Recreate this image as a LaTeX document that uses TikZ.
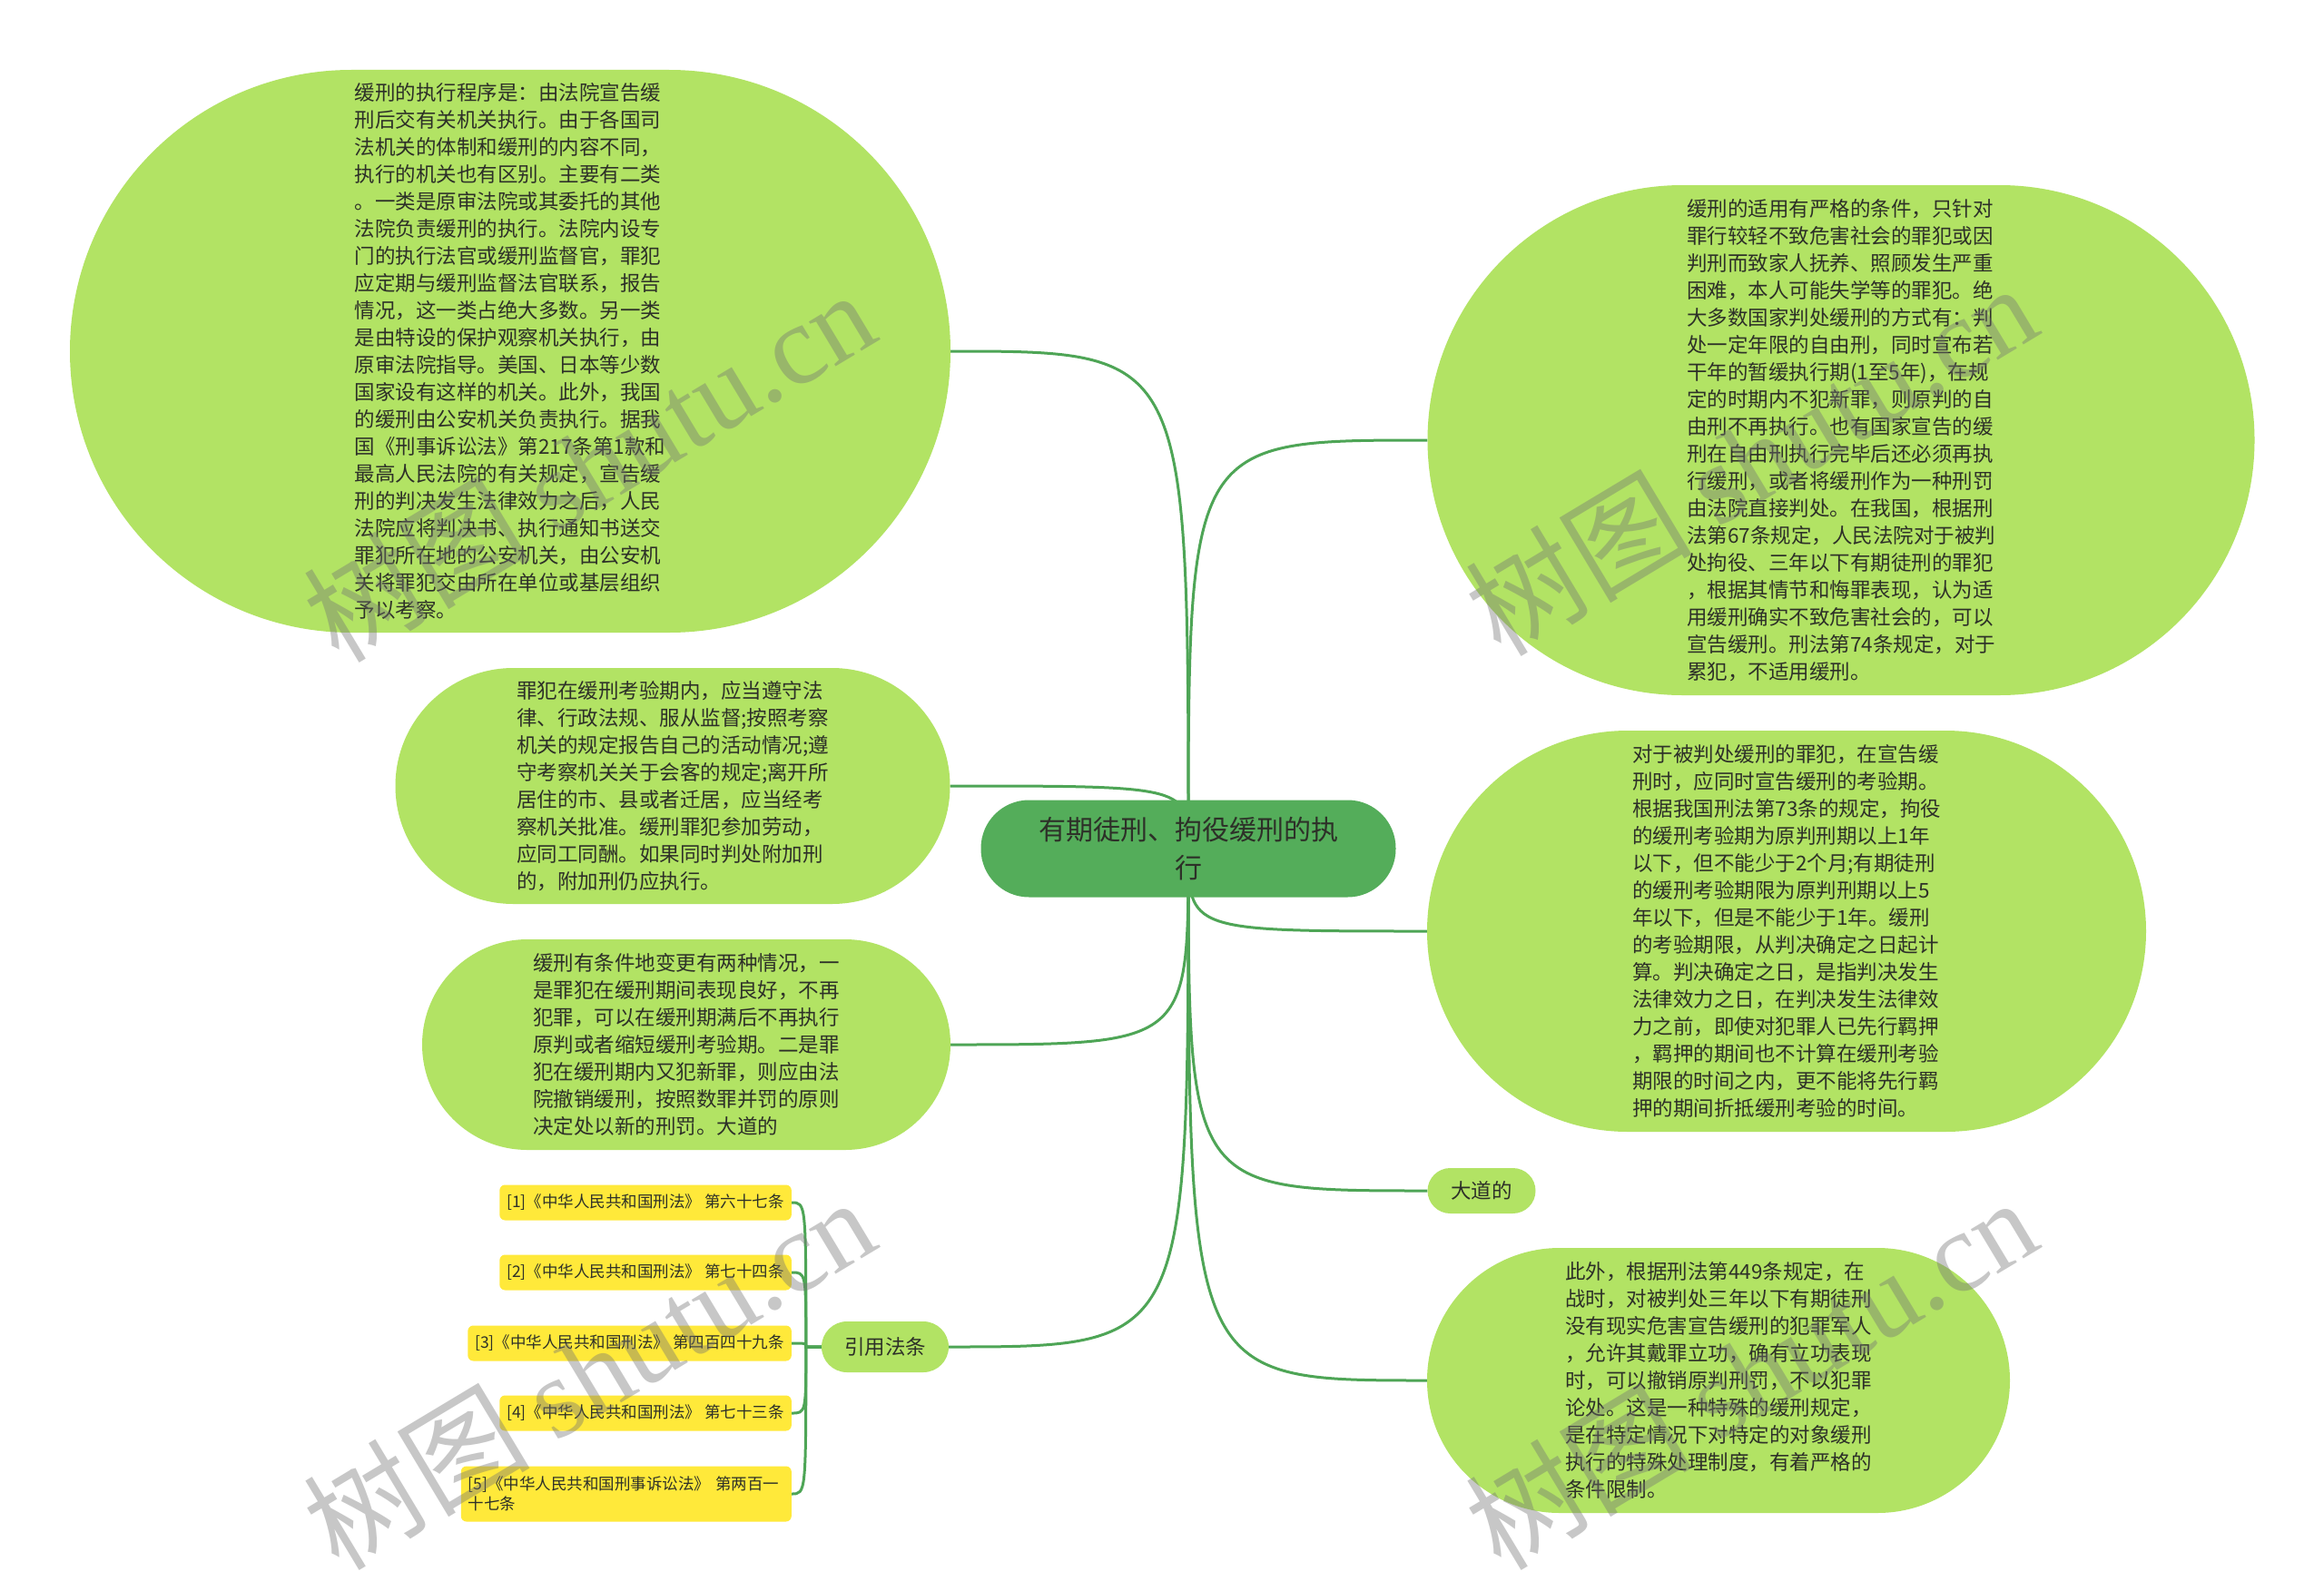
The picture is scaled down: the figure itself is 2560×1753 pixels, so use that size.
\documentclass[tikz,border=0pt]{standalone}
\usepackage{fontspec}
\setmainfont{Noto Sans CJK SC}
\newfontfamily\wmlatin{Liberation Serif}
\usetikzlibrary{backgrounds}
\definecolor{leaf}{RGB}{178,227,100}
\definecolor{trunk}{RGB}{84,173,90}
\definecolor{ln}{RGB}{78,165,86}
\definecolor{cy}{RGB}{255,233,58}
\definecolor{ink}{RGB}{45,48,40}

\begin{document}
\begin{tikzpicture} [
    x=1pt, y=-1pt,
    lk/.style={draw=ln,line width=3pt},
    topic/.style={
        fill=leaf, text=ink,
        align=left, inner sep=0pt,
        font=\fontsize{22.5}{30}\selectfont
    },
    cite/.style={
        fill=cy, text=ink,
        rounded corners=6pt,
        inner xsep=8pt, inner ysep=0pt,
        minimum height=39pt,
        anchor=east, align=left,
        font=\fontsize{17.5}{22}\selectfont
    },
    wm/.style={text=black!55, opacity=0.4, rotate=31,
        font=\fontsize{125}{125}\selectfont}
]

\useasboundingbox (0,0) rectangle (2560,1753);

\node [fill=trunk, text=ink, rounded corners=53pt,
    minimum width=457pt, minimum height=107pt, align=center,
    font=\fontsize{30}{42}\selectfont] (root) at (1309,935)
    {有期徒刑、拘役缓刑的执\\行};

% left side
\node [topic, minimum width=970pt, minimum height=620pt, rounded corners=310pt] (exec) at (562,387) {%
缓刑的执行程序是：由法院宣告缓\\
刑后交有关机关执行。由于各国司\\
法机关的体制和缓刑的内容不同，\\
执行的机关也有区别。主要有二类\\
。一类是原审法院或其委托的其他\\
法院负责缓刑的执行。法院内设专\\
门的执行法官或缓刑监督官，罪犯\\
应定期与缓刑监督法官联系，报告\\
情况，这一类占绝大多数。另一类\\
是由特设的保护观察机关执行，由\\
原审法院指导。美国、日本等少数\\
国家设有这样的机关。此外，我国\\
的缓刑由公安机关负责执行。据我\\
国《刑事诉讼法》第217条第1款和\\
最高人民法院的有关规定，宣告缓\\
刑的判决发生法律效力之后，人民\\
法院应将判决书、执行通知书送交\\
罪犯所在地的公安机关，由公安机\\
关将罪犯交由所在单位或基层组织\\
予以考察。};

\node [topic, minimum width=611pt, minimum height=260pt, rounded corners=130pt] (duty) at (741,866) {%
罪犯在缓刑考验期内，应当遵守法\\
律、行政法规、服从监督;按照考察\\
机关的规定报告自己的活动情况;遵\\
守考察机关关于会客的规定;离开所\\
居住的市、县或者迁居，应当经考\\
察机关批准。缓刑罪犯参加劳动，\\
应同工同酬。如果同时判处附加刑\\
的，附加刑仍应执行。};

\node [topic, minimum width=582pt, minimum height=232pt, rounded corners=116pt] (change) at (756,1151) {%
缓刑有条件地变更有两种情况，一\\
是罪犯在缓刑期间表现良好，不再\\
犯罪，可以在缓刑期满后不再执行\\
原判或者缩短缓刑考验期。二是罪\\
犯在缓刑期内又犯新罪，则应由法\\
院撤销缓刑，按照数罪并罚的原则\\
决定处以新的刑罚。大道的};

\node [topic, align=center, minimum width=140pt, minimum height=56pt, rounded corners=28pt] (laws) at (975,1484) {引用法条};

\node [cite] (c1) at (872,1325) {[1]《中华人民共和国刑法》 第六十七条};
\node [cite] (c2) at (872,1402) {[2]《中华人民共和国刑法》 第七十四条};
\node [cite] (c3) at (872,1480) {[3]《中华人民共和国刑法》 第四百四十九条};
\node [cite] (c4) at (872,1557) {[4]《中华人民共和国刑法》 第七十三条};
\node [cite, minimum height=61pt, text width=348pt] (c5) at (872,1646)
    {[5]《中华人民共和国刑事诉讼法》 第两百一\\十七条};

% right side
\node [topic, minimum width=911pt, minimum height=562pt, rounded corners=281pt] (cond) at (2028,485) {%
缓刑的适用有严格的条件，只针对\\
罪行较轻不致危害社会的罪犯或因\\
判刑而致家人抚养、照顾发生严重\\
困难，本人可能失学等的罪犯。绝\\
大多数国家判处缓刑的方式有：判\\
处一定年限的自由刑，同时宣布若\\
干年的暂缓执行期(1至5年)，在规\\
定的时期内不犯新罪，则原判的自\\
由刑不再执行。也有国家宣告的缓\\
刑在自由刑执行完毕后还必须再执\\
行缓刑，或者将缓刑作为一种刑罚\\
由法院直接判处。在我国，根据刑\\
法第67条规定，人民法院对于被判\\
处拘役、三年以下有期徒刑的罪犯\\
，根据其情节和悔罪表现，认为适\\
用缓刑确实不致危害社会的，可以\\
宣告缓刑。刑法第74条规定，对于\\
累犯，不适用缓刑。};

\node [topic, minimum width=792pt, minimum height=442pt, rounded corners=221pt] (term) at (1968,1026) {%
对于被判处缓刑的罪犯，在宣告缓\\
刑时，应同时宣告缓刑的考验期。\\
根据我国刑法第73条的规定，拘役\\
的缓刑考验期为原判刑期以上1年\\
以下，但不能少于2个月;有期徒刑\\
的缓刑考验期限为原判刑期以上5\\
年以下，但是不能少于1年。缓刑\\
的考验期限，从判决确定之日起计\\
算。判决确定之日，是指判决发生\\
法律效力之日，在判决发生法律效\\
力之前，即使对犯罪人已先行羁押\\
，羁押的期间也不计算在缓刑考验\\
期限的时间之内，更不能将先行羁\\
押的期间折抵缓刑考验的时间。};

\node [topic, align=center, minimum width=119pt, minimum height=50pt, rounded corners=25pt] (dadao) at (1632,1312) {大道的};

\node [topic, minimum width=642pt, minimum height=292pt, rounded corners=146pt] (war) at (1893,1521) {%
此外，根据刑法第449条规定，在\\
战时，对被判处三年以下有期徒刑\\
没有现实危害宣告缓刑的犯罪军人\\
，允许其戴罪立功，确有立功表现\\
时，可以撤销原判刑罚，不以犯罪\\
论处。这是一种特殊的缓刑规定，\\
是在特定情况下对特定的对象缓刑\\
执行的特殊处理制度，有着严格的\\
条件限制。};

\begin{scope}[on background layer]
\fill [white] (0,0) rectangle (2560,1753);
\draw [lk] (root.center) .. controls (root.center |- exec.east) .. (exec.east);
\draw [lk] (root.center) .. controls (root.center |- duty.east) .. (duty.east);
\draw [lk] (root.center) .. controls (root.center |- change.east) .. (change.east);
\draw [lk] (root.center) .. controls (root.center |- laws.east) .. (laws.east);
\draw [lk] (root.center) .. controls (root.center |- cond.west) .. (cond.west);
\draw [lk] (root.center) .. controls (root.center |- term.west) .. (term.west);
\draw [lk] (root.center) .. controls (root.center |- dadao.west) .. (dadao.west);
\draw [lk] (root.center) .. controls (root.center |- war.west) .. (war.west);

\path (laws.west) ++(-17,0) coordinate (hub);
\draw [lk] (laws.west) -- (hub) .. controls (hub |- c1.east) .. (c1.east);
\draw [lk] (laws.west) -- (hub) .. controls (hub |- c2.east) .. (c2.east);
\draw [lk] (laws.west) -- (hub) .. controls (hub |- c3.east) .. (c3.east);
\draw [lk] (laws.west) -- (hub) .. controls (hub |- c4.east) .. (c4.east);
\draw [lk] (laws.west) -- (hub) .. controls (hub |- c5.east) .. (c5.east);
\end{scope}

% watermark
\node [wm] (wm1) at (648,512) {树图 {\wmlatin shutu.cn}};
\node [wm] (wm2) at (1928,505) {树图 {\wmlatin shutu.cn}};
\node [wm] (wm3) at (648,1512) {树图 {\wmlatin shutu.cn}};
\node [wm] (wm4) at (1928,1512) {树图 {\wmlatin shutu.cn}};

\end{tikzpicture}
\end{document}
